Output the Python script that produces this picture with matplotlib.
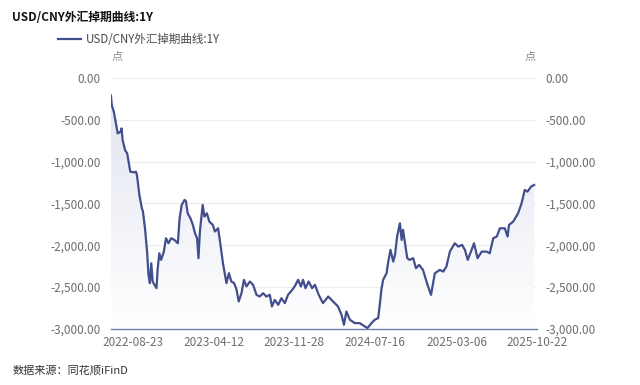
import numpy as np
import pandas as pd
import matplotlib
matplotlib.use("Agg")
import matplotlib.pyplot as plt
import matplotlib.dates as mdates
from matplotlib.ticker import FuncFormatter

plt.rcParams['font.family'] = ['Noto Sans CJK SC', 'DejaVu Sans']

start = "2022-06-21"
days = [0, 1, 3, 9, 15, 20, 28, 31, 34, 41, 47, 51, 56, 66, 72, 75, 82, 89, 92, 98,
        104, 108, 112, 116, 120, 125, 131, 134, 139, 144, 152, 158, 165, 173, 182, 192,
        197, 203, 211, 215, 220, 228, 235, 241, 247, 251, 255, 260, 263, 268, 275, 282,
        292, 298, 307, 312, 321, 331, 338, 345, 353, 360, 366, 374, 381, 388, 398, 407,
        417, 426, 436, 445, 455, 461, 469, 479, 488, 498, 507, 519, 526, 536, 544, 550,
        557, 566, 576, 584, 595, 607, 622, 636, 650, 660, 667, 674, 684, 698, 712, 727,
        734, 746, 755, 765, 770, 774, 779, 789, 793, 800, 808, 813, 819, 827, 832, 836,
        848, 855, 865, 873, 882, 893, 906, 916, 927, 941, 951, 960, 970, 984, 994, 1005,
        1013, 1021, 1032, 1039, 1049, 1061, 1075, 1084, 1094, 1104, 1113, 1127, 1135,
        1139, 1151, 1165, 1175, 1184, 1192, 1202, 1211]
points = [-205, -223, -323, -403, -542, -661, -641, -601, -741, -860, -900, -1000, -1120,
          -1127, -1120, -1159, -1398, -1557, -1590, -1797, -2076, -2355, -2454, -2215,
          -2434, -2474, -2514, -2295, -2096, -2175, -2076, -1916, -1976, -1916, -1936,
          -1976, -1677, -1518, -1458, -1470, -1617, -1677, -1757, -1856, -1916, -2155,
          -1836, -1637, -1518, -1657, -1617, -1717, -1757, -1836, -1797, -1936, -2215,
          -2454, -2334, -2434, -2454, -2534, -2673, -2574, -2414, -2494, -2434, -2474,
          -2594, -2614, -2574, -2614, -2594, -2733, -2654, -2713, -2634, -2693, -2594,
          -2534, -2494, -2414, -2494, -2414, -2514, -2434, -2514, -2474, -2594, -2693,
          -2614, -2673, -2733, -2832, -2952, -2793, -2892, -2932, -2932, -2972, -2992,
          -2932, -2892, -2872, -2693, -2534, -2414, -2334, -2215, -2056, -2195, -2115,
          -1896, -1737, -1936, -1816, -2155, -2175, -2155, -2275, -2235, -2295, -2474,
          -2594, -2335, -2295, -2315, -2255, -2076, -1976, -2016, -1996, -2056, -2175,
          -2056, -1976, -2155, -2076, -2076, -2096, -1916, -1896, -1797, -1797, -1896,
          -1757, -1717, -1617, -1498, -1338, -1358, -1298, -1278]
tick_dates = ["2022-08-23", "2023-04-12", "2023-11-28", "2024-07-16", "2025-03-06", "2025-10-22"]
y_ticks = [0, -500, -1000, -1500, -2000, -2500, -3000]

dates = pd.Timestamp(start) + pd.to_timedelta(days, unit="D")
vals = np.array(points, dtype=float)

line_color = "#434e8d"
grey = "#6e6e6e"

fig = plt.figure(figsize=(6.4, 3.85), dpi=100)
ax = fig.add_axes([0.173, 0.146, 0.666, 0.651])

x_lo = pd.Timestamp(start)
x_hi = pd.Timestamp("2025-10-22")
ax.set_xlim(x_lo, x_hi)
ax.set_ylim(-3000, 0)

# gradient area under the curve
poly = ax.fill_between(dates, vals, -3000, color="none", lw=0)
grad = np.linspace(1, 0, 256).reshape(-1, 1)
cmap = matplotlib.colors.LinearSegmentedColormap.from_list("g", ["#ffffff", "#e2e5f0"])
img = ax.imshow(grad, aspect="auto", cmap=cmap, origin="upper",
                extent=[mdates.date2num(x_lo), mdates.date2num(x_hi), -3000, vals.max()],
                zorder=1)
img.set_clip_path(poly.get_paths()[0], transform=ax.transData)

ax.plot(dates, vals, color=line_color, lw=1.6, zorder=3, solid_joinstyle="round",
        label="USD/CNY外汇掉期曲线:1Y")

ax.set_yticks(y_ticks)
fmt = FuncFormatter(lambda v, p: f"{v:,.2f}")
ax.yaxis.set_major_formatter(fmt)
ax.grid(axis="y", color="#ececec", lw=0.8)
ax.set_axisbelow(True)
ax.set_xticks(pd.to_datetime(tick_dates))
ax.xaxis.set_major_formatter(mdates.DateFormatter("%Y-%m-%d"))

for s in ["top", "right", "left"]:
    ax.spines[s].set_visible(False)
ax.spines["bottom"].set_color("#6e7fb0")
ax.spines["bottom"].set_linewidth(1.0)
ax.tick_params(axis="y", length=0, labelsize=8.5, colors=grey, pad=7)
ax.tick_params(axis="x", length=0, labelsize=8.5, colors=grey, pad=5)

ax2 = ax.twinx()
ax2.set_ylim(-3000, 0)
ax2.set_yticks(y_ticks)
ax2.yaxis.set_major_formatter(fmt)
for s in ["top", "right", "left", "bottom"]:
    ax2.spines[s].set_visible(False)
ax2.tick_params(axis="y", length=0, labelsize=8.5, colors=grey, pad=6)

fig.text(0.019, 0.955, "USD/CNY外汇掉期曲线:1Y", fontsize=8.5, fontweight="bold",
         color="#111111", va="center")
leg = fig.legend(handles=ax.get_lines(), loc="center left", bbox_to_anchor=(0.075, 0.898),
                 frameon=False, fontsize=8.3, handlelength=2.0, handletextpad=0.4)
for t in leg.get_texts():
    t.set_color("#4a4a4a")
fig.text(0.183, 0.852, "点", fontsize=8, color="#888888", ha="center", va="center")
fig.text(0.829, 0.852, "点", fontsize=8, color="#888888", ha="center", va="center")
fig.text(0.019, 0.038, "数据来源：同花顺iFinD", fontsize=8, color="#333333", va="center")

fig.savefig("out.png", dpi=100)
